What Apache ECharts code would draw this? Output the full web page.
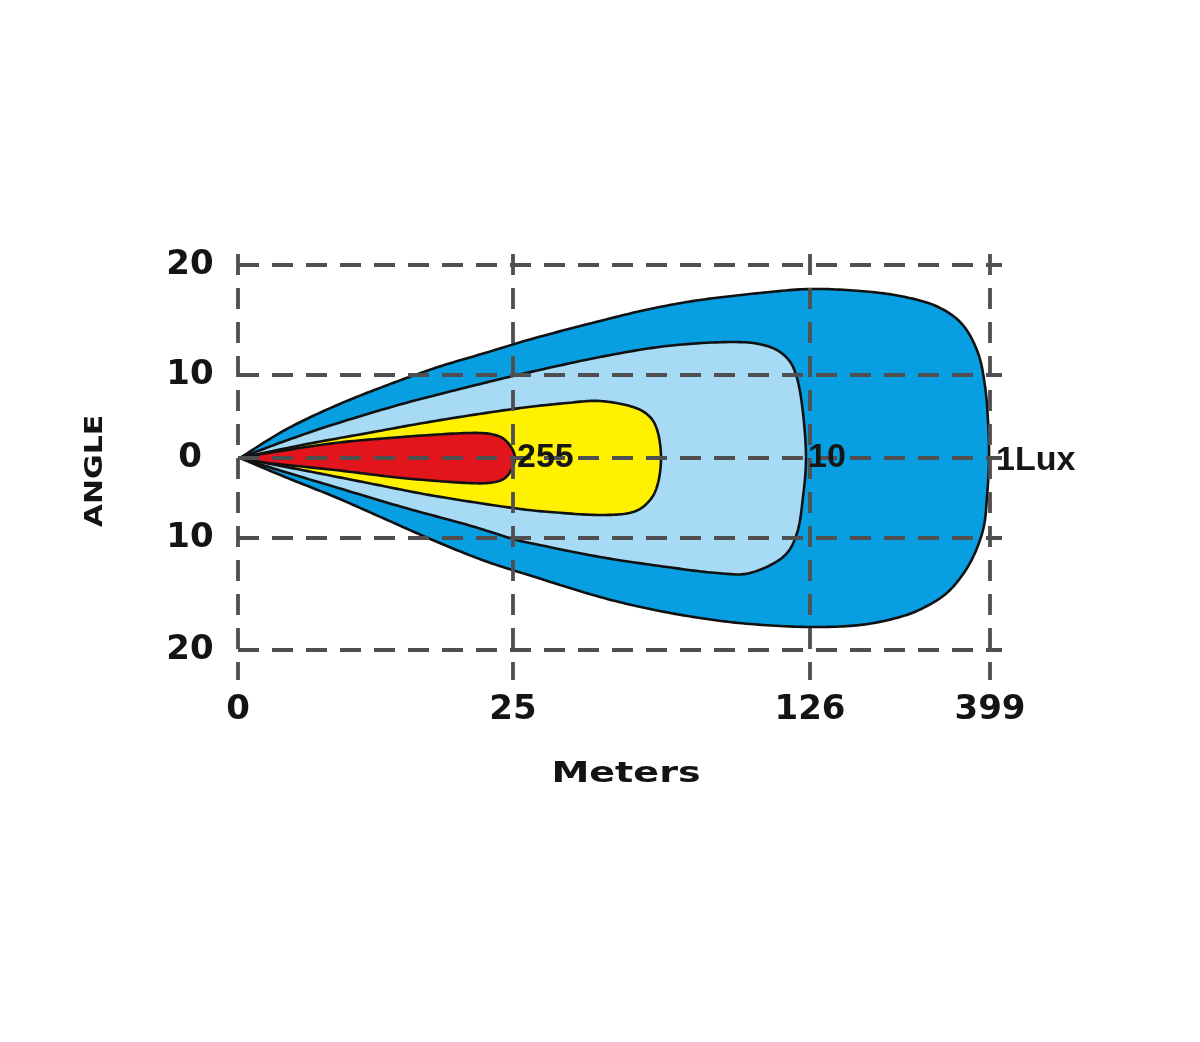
<!DOCTYPE html>
<html>
<head>
<meta charset="utf-8">
<script src="https://cdn.jsdelivr.net/npm/echarts@6/dist/echarts.min.js"></script>
<style>
html,body{margin:0;padding:0;background:#fff;}
#chart{width:1200px;height:1042px;}
</style>
</head>
<body>
<div id="chart"></div>
<script>
// Axis ticks (positions in chart units) and their printed labels
const xTickPos = [0, 275, 572, 752];
const xTickLabels = ['0', '25', '126', '399'];
const yTickPos = [193, 83, 0, -80, -192];
const yTickLabels = ['20', '10', '0', '10', '20'];

// Illuminance contours: [distance position, angle position]
const lux1 = [[2,0],[47,28],[97,52],[147,72],[197,90],[247,105],[297,120],[362,137],[412,149],[462,158],[522,165],[572,169],[622,167],[662,162],[698,152],[724,134],[740,105],[747,72],[750,37],[751,0],[749,-39],[745,-72],[732,-105],[712,-132],[689,-148],[662,-159],[622,-167],[572,-169],[512,-166],[462,-160],[412,-151],[362,-139],[297,-119],[247,-103],[197,-83],[147,-61],[97,-39],[47,-19]];
const lux10 = [[2,0],[47,17],[97,34],[164,54],[230,71],[275,82],[297,87],[362,101],[429,112],[495,116],[529,112],[549,100],[559,80],[565,45],[568,0],[565,-39],[559,-75],[545,-99],[512,-115],[479,-115],[429,-109],[362,-99],[297,-86],[275,-81],[230,-67],[164,-49],[97,-29],[47,-14]];
const luxMid = [[2,0],[64,13],[130,25],[197,37],[275,49],[329,55],[362,57],[395,51],[412,41],[420,25],[423,0],[420,-25],[412,-42],[395,-54],[362,-57],[312,-54],[275,-50],[197,-38],[130,-25],[64,-12]];
const lux255 = [[2,0],[30,5],[97,15],[164,21],[230,25],[257,23],[270,15],[277,0],[270,-17],[257,-24],[230,-25],[164,-20],[97,-12],[30,-5]];

const contourNames = ['1Lux', '10', '', '255'];

const X_MIN = 0, X_MAX = 764, Y_MIN = -222, Y_MAX = 204;

function tipX(arr) { return Math.max.apply(null, arr.map(p => p[0])); }

function contourRender(points, fill) {
  return function (params, api) {
    if (params.dataIndex !== 0) return null;
    const pts = points.map(p => api.coord(p));
    pts.push(pts[0]);
    const out = [];
    const N = 14;
    for (let i = 0; i < pts.length - 1; i++) {
      const p0 = i > 0 ? pts[i - 1] : pts[i];
      const p1 = pts[i], p2 = pts[i + 1];
      const p3 = i + 2 < pts.length ? pts[i + 2] : pts[i + 1];
      const c1 = [p1[0] + (p2[0] - p0[0]) / 6, p1[1] + (p2[1] - p0[1]) / 6];
      const c2 = [p2[0] - (p3[0] - p1[0]) / 6, p2[1] - (p3[1] - p1[1]) / 6];
      for (let k = 0; k < N; k++) {
        const t = k / N, u = 1 - t;
        const a = u*u*u, b = 3*u*u*t, c = 3*u*t*t, d = t*t*t;
        out.push([a*p1[0] + b*c1[0] + c*c2[0] + d*p2[0], a*p1[1] + b*c1[1] + c*c2[1] + d*p2[1]]);
      }
    }
    return {
      type: 'polygon',
      shape: { points: out },
      style: { fill: fill, stroke: '#111', lineWidth: 2.6, lineJoin: 'round' }
    };
  };
}

function contourSeries(name, points, fill, z) {
  return {
    type: 'custom', name: name, z: z, silent: true, clip: false,
    data: points,
    renderItem: contourRender(points, fill)
  };
}

const gridLineStyle = { stroke: '#4f4f4f', lineWidth: 3.8, lineDash: [21, 13] };

const chart = echarts.init(document.getElementById('chart'));
chart.setOption({
  backgroundColor: '#ffffff',
  animation: false,
  grid: { left: 238, top: 254, width: 764, height: 426, containLabel: false, outerBoundsMode: 'none' },
  xAxis: {
    type: 'value', min: X_MIN, max: X_MAX,
    axisLine: { show: false }, axisTick: { show: false }, splitLine: { show: false },
    axisLabel: {
      customValues: xTickPos,
      formatter: function (v) { const i = xTickPos.indexOf(v); return i >= 0 ? xTickLabels[i] : ''; },
      margin: 13,
      fontFamily: 'DejaVu Sans', fontWeight: 'bold', fontSize: 34, color: '#141414'
    }
  },
  yAxis: {
    type: 'value', min: Y_MIN, max: Y_MAX,
    axisLine: { show: false }, axisTick: { show: false }, splitLine: { show: false },
    axisLabel: {
      customValues: yTickPos,
      formatter: function (v) { const i = yTickPos.indexOf(v); return i >= 0 ? yTickLabels[i] : ''; },
      margin: 48, align: 'center',
      fontFamily: 'DejaVu Sans', fontWeight: 'bold', fontSize: 34, color: '#141414'
    }
  },
  graphic: [
    { type: 'text', x: 95, y: 471, rotation: Math.PI / 2, scaleX: 1.2,
      style: { text: 'ANGLE', font: 'bold 25px "DejaVu Sans"', fill: '#141414', align: 'center', verticalAlign: 'middle' } },
    { type: 'text', x: 626, y: 775, scaleX: 1.36,
      style: { text: 'Meters', font: 'bold 28px "DejaVu Sans"', fill: '#141414', align: 'center', verticalAlign: 'middle' } }
  ],
  series: [
    contourSeries('1Lux', lux1, '#079ee2', 1),
    contourSeries('10', lux10, '#a6daf5', 2),
    contourSeries('mid', luxMid, '#fff100', 3),
    contourSeries('255', lux255, '#e3151c', 4),
    {
      type: 'custom', name: 'vgrid', z: 6, silent: true,
      data: xTickPos.map(v => [v, 0]),
      renderItem: function (params, api) {
        const x = api.value(0);
        const a = api.coord([x, Y_MAX]), b = api.coord([x, Y_MIN]);
        return { type: 'line', shape: { x1: a[0], y1: a[1], x2: b[0], y2: b[1] }, style: gridLineStyle };
      }
    },
    {
      type: 'custom', name: 'hgrid', z: 6, silent: true,
      data: yTickPos.map(v => [0, v]),
      renderItem: function (params, api) {
        const y = api.value(1);
        const a = api.coord([X_MIN, y]), b = api.coord([X_MAX, y]);
        return { type: 'line', shape: { x1: a[0], y1: a[1], x2: b[0], y2: b[1] }, style: gridLineStyle };
      }
    },
    {
      type: 'scatter', name: 'labels', z: 8, silent: true, symbolSize: 0,
      itemStyle: { opacity: 1 },
      data: [
        { value: [tipX(lux255), 0], name: contourNames[3], label: { distance: 2 } },
        { value: [tipX(lux10), 0], name: contourNames[1], label: { distance: 2 } },
        { value: [tipX(lux1), 0], name: contourNames[0], label: { distance: 7, offset: [0, 3] } }
      ],
      label: {
        show: true, position: 'right', opacity: 1,
        formatter: function (p) { return p.name; },
        fontFamily: 'Liberation Sans', fontWeight: 'bold', fontSize: 34, color: '#161616'
      }
    }
  ]
});
</script>
</body>
</html>
